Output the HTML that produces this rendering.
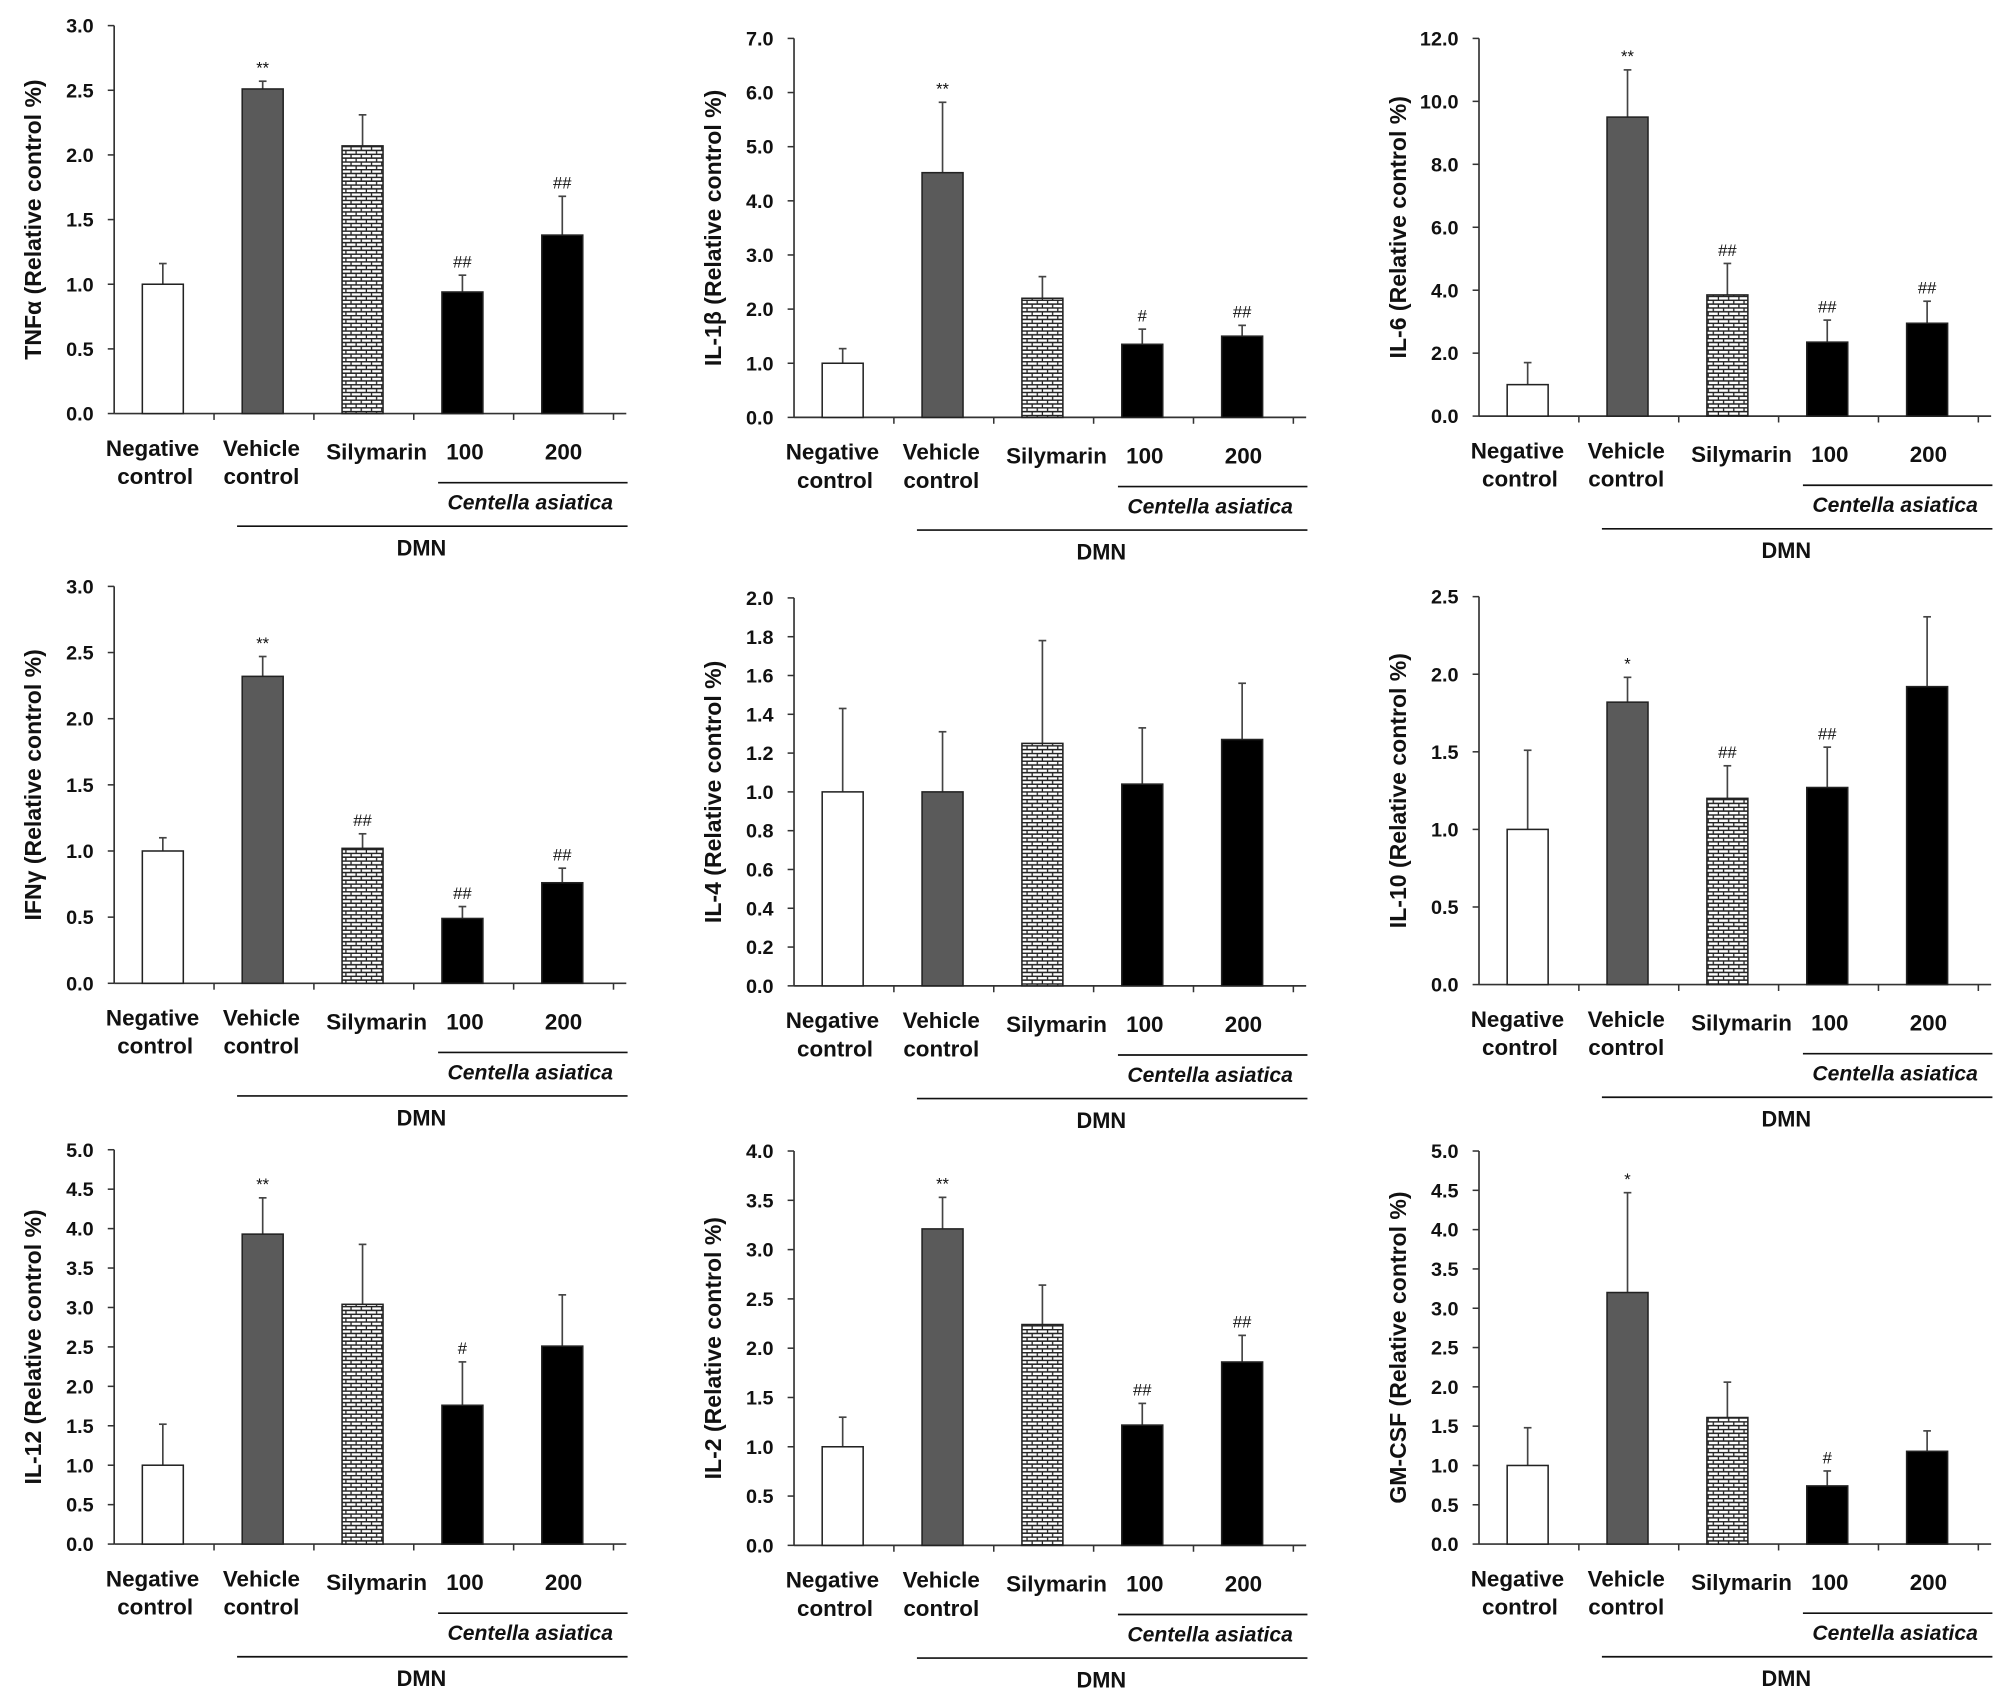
<!DOCTYPE html>
<html><head><meta charset="utf-8">
<style>
html,body{margin:0;padding:0;background:#fff;}
svg{display:block;font-family:"Liberation Sans",Arial,sans-serif;}
</style></head>
<body>
<svg id="fig" width="2008" height="1699" viewBox="0 0 1568 1327" xmlns="http://www.w3.org/2000/svg">
<defs>
<pattern id="brick" patternUnits="userSpaceOnUse" width="8" height="6">
<rect width="8" height="6" fill="#fff"/>
<line x1="0" y1="0.5" x2="8" y2="0.5" stroke="#222" stroke-width="1.2"/>
<line x1="0" y1="3.5" x2="8" y2="3.5" stroke="#222" stroke-width="1.2"/>
<line x1="2" y1="0" x2="2" y2="3.5" stroke="#222" stroke-width="1"/>
<line x1="6" y1="3.5" x2="6" y2="6" stroke="#222" stroke-width="1"/>
</pattern>
</defs>
</svg>
<script>
// ---- data ----
const categories = ["Negative control","Vehicle control","Silymarin","100","200"];
const tnfValues = [1.0, 2.51, 2.07, 0.94, 1.38];
const tnfErrors = [0.16, 0.06, 0.24, 0.13, 0.30];
const tnfSig = ["", "**", "", "##", "##"];
const il1bValues = [1.0, 4.52, 2.2, 1.35, 1.5];
const il1bErrors = [0.27, 1.3, 0.4, 0.28, 0.2];
const il1bSig = ["", "**", "", "#", "##"];
const il6Values = [1.0, 9.5, 3.85, 2.35, 2.95];
const il6Errors = [0.7, 1.5, 1.0, 0.7, 0.7];
const il6Sig = ["", "**", "##", "##", "##"];
const ifnValues = [1.0, 2.32, 1.02, 0.49, 0.76];
const ifnErrors = [0.1, 0.15, 0.11, 0.09, 0.11];
const ifnSig = ["", "**", "##", "##", "##"];
const il4Values = [1.0, 1.0, 1.25, 1.04, 1.27];
const il4Errors = [0.43, 0.31, 0.53, 0.29, 0.29];
const il4Sig = ["", "", "", "", ""];
const il10Values = [1.0, 1.82, 1.2, 1.27, 1.92];
const il10Errors = [0.51, 0.16, 0.21, 0.26, 0.45];
const il10Sig = ["", "*", "##", "##", ""];
const il12Values = [1.0, 3.93, 3.04, 1.76, 2.51];
const il12Errors = [0.52, 0.46, 0.76, 0.55, 0.65];
const il12Sig = ["", "**", "", "#", ""];
const il2Values = [1.0, 3.21, 2.24, 1.22, 1.86];
const il2Errors = [0.3, 0.32, 0.4, 0.22, 0.27];
const il2Sig = ["", "**", "", "##", "##"];
const gmValues = [1.0, 3.2, 1.61, 0.74, 1.18];
const gmErrors = [0.48, 1.27, 0.45, 0.19, 0.26];
const gmSig = ["", "*", "", "#", ""];
const tnfTicks = [0,0.5,1.0,1.5,2.0,2.5,3.0];
const il1bTicks = [0,1,2,3,4,5,6,7];
const il6Ticks = [0,2,4,6,8,10,12];
const ifnTicks = [0,0.5,1.0,1.5,2.0,2.5,3.0];
const il4Ticks = [0,0.2,0.4,0.6,0.8,1.0,1.2,1.4,1.6,1.8,2.0];
const il10Ticks = [0,0.5,1.0,1.5,2.0,2.5];
const il12Ticks = [0,0.5,1,1.5,2,2.5,3,3.5,4,4.5,5];
const il2Ticks = [0,0.5,1,1.5,2,2.5,3,3.5,4];
const gmTicks = [0,0.5,1,1.5,2,2.5,3,3.5,4,4.5,5];

const panels = [
 {name:"tnf", title:"TNFα (Relative control %)", v:tnfValues, e:tnfErrors, s:tnfSig, t:tnfTicks, ax:89, top:20, zero:323},
 {name:"il1b", title:"IL-1β (Relative control %)", v:il1bValues, e:il1bErrors, s:il1bSig, t:il1bTicks, ax:620, top:30, zero:326},
 {name:"il6", title:"IL-6 (Relative control %)", v:il6Values, e:il6Errors, s:il6Sig, t:il6Ticks, ax:1155, top:30, zero:325},
 {name:"ifn", title:"IFNγ (Relative control %)", v:ifnValues, e:ifnErrors, s:ifnSig, t:ifnTicks, ax:89, top:458, zero:768},
 {name:"il4", title:"IL-4 (Relative control %)", v:il4Values, e:il4Errors, s:il4Sig, t:il4Ticks, ax:620, top:467, zero:770},
 {name:"il10", title:"IL-10 (Relative control %)", v:il10Values, e:il10Errors, s:il10Sig, t:il10Ticks, ax:1155, top:466, zero:769},
 {name:"il12", title:"IL-12 (Relative control %)", v:il12Values, e:il12Errors, s:il12Sig, t:il12Ticks, ax:89, top:898, zero:1206},
 {name:"il2", title:"IL-2 (Relative control %)", v:il2Values, e:il2Errors, s:il2Sig, t:il2Ticks, ax:620, top:899, zero:1207},
 {name:"gm", title:"GM-CSF (Relative control %)", v:gmValues, e:gmErrors, s:gmSig, t:gmTicks, ax:1155, top:899, zero:1206}
];
const fills = ["#ffffff","#5a5a5a","url(#brick)","#000000","#000000"];
const svg = document.getElementById('fig');
const NS = "http://www.w3.org/2000/svg";
function mk(tag, attrs, parent){
  const el = document.createElementNS(NS, tag);
  for (const k in attrs) el.setAttribute(k, attrs[k]);
  parent.appendChild(el);
  return el;
}
function txt(parent, x, y, s, size, extra){
  const el = mk('text', Object.assign({x:x, y:y, 'font-size':size, 'font-weight':'bold', 'text-anchor':'middle', fill:'#111'}, extra||{}), parent);
  el.textContent = s;
  return el;
}
panels.forEach(p => {
  const g = mk('g', {}, svg);
  
  
  const tmax = p.t[p.t.length-1];
  const yS = v => p.zero - (v / tmax) * (p.zero - p.top);
  const slot = 78;
  const xC = i => p.ax + 38 + slot * i;
  const axEnd = p.ax + 400;
  const yax = mk('line', {x1:p.ax, y1:p.top, x2:p.ax, y2:p.zero, stroke:'#333', 'stroke-width':1.3}, g);
  
  
  p.t.forEach(tv => {
    const y = yS(tv);
    mk('line', {x1:p.ax-5, y1:y, x2:p.ax, y2:y, stroke:'#333', 'stroke-width':1.2}, g);
    const tl = txt(g, p.ax-16, y+5.5, tv.toFixed(1), 15.5, {'text-anchor':'end'});
    
    
  });
  const xax = mk('line', {x1:p.ax, y1:p.zero, x2:axEnd, y2:p.zero, stroke:'#333', 'stroke-width':1.3}, g);
  
  
  for (let i = 1; i <= 5; i++) {
    mk('line', {x1:p.ax+slot*i, y1:p.zero, x2:p.ax+slot*i, y2:p.zero+5, stroke:'#333', 'stroke-width':1.2}, g);
  }
  const cy = (p.top + p.zero) / 2;
  const tx = p.ax - 57;
  const yt = txt(g, tx, cy, p.title, 18, {transform:`rotate(-90 ${tx} ${cy})`});
  
  
  p.v.forEach((v, i) => {
    const x = xC(i), y = yS(v), top = yS(v + p.e[i]);
    const er = mk('line', {x1:x, y1:y, x2:x, y2:top, stroke:'#444', 'stroke-width':1.3}, g);
    
    
    mk('line', {x1:x-3, y1:top, x2:x+3, y2:top, stroke:'#444', 'stroke-width':1.3}, g);
    const b = mk('rect', {x:x-16, y:y, width:32, height:p.zero - y, fill:fills[i], stroke:'#222', 'stroke-width':1.2}, g);
    
    
    if (p.s[i]) {
      const st = txt(g, x, top - 6, p.s[i], 13, {'font-weight':'normal'});
      
      
    }
  });
  const z = p.zero;
  const labs = [
    [xC(0)-8, z+33, "Negative"], [xC(0)-6, z+55, "control"],
    [xC(1)-1, z+33, "Vehicle"], [xC(1)-1, z+55, "control"],
    [xC(2)+11, z+36, "Silymarin"], [xC(3)+2, z+36, "100"], [xC(4)+1, z+36, "200"]
  ];
  labs.forEach(l => {
    const el = txt(g, l[0], l[1], l[2], 17.5);
    
    
  });
  const cl = mk('line', {x1:xC(3)-19, y1:z+54, x2:axEnd+1, y2:z+54, stroke:'#111', 'stroke-width':1.3}, g);
  
  
  const ct = txt(g, xC(3)+53, z+75, "Centella asiatica", 16.5, {'font-style':'italic'});
  
  
  const dl = mk('line', {x1:xC(1)-20, y1:z+88, x2:axEnd+1, y2:z+88, stroke:'#111', 'stroke-width':1.3}, g);
  
  
  const dt = txt(g, p.ax + 240, z+111, "DMN", 17);
  
  
});
</script>
</body></html>
